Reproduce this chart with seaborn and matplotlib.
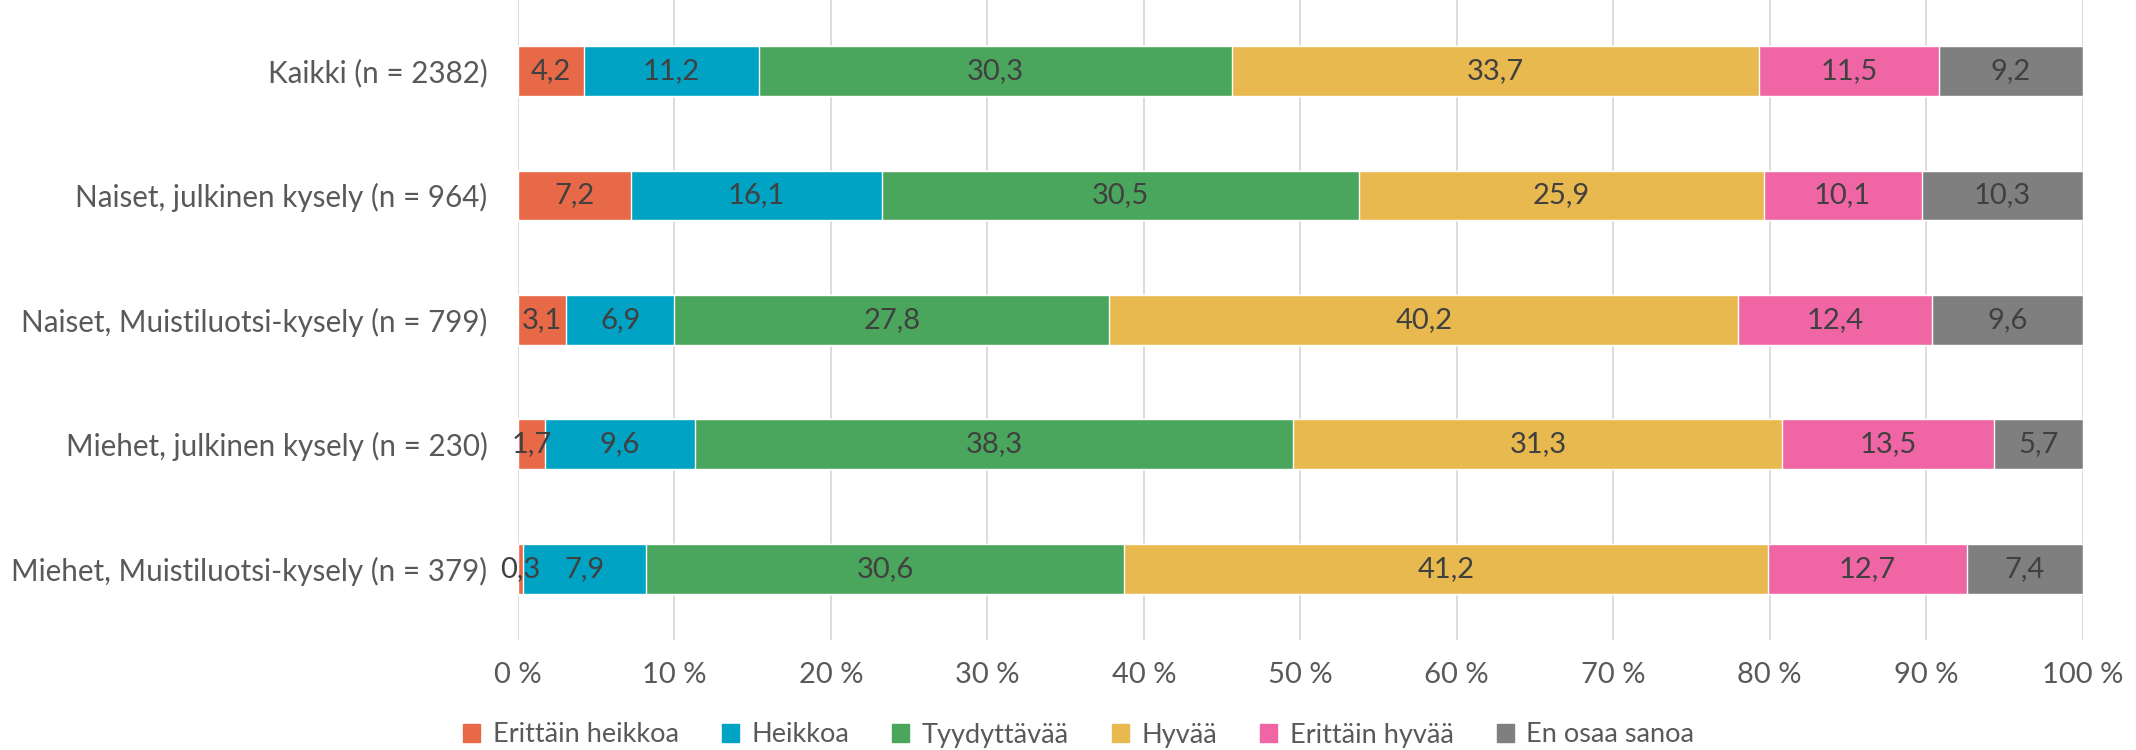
import matplotlib
matplotlib.use("Agg")
import matplotlib.pyplot as plt
import seaborn as sns
import numpy as np
import pandas as pd

sns.set_style("white")
plt.rcParams['font.family'] = ['Lato', 'DejaVu Sans']

categories = [
    "Kaikki (n = 2382)",
    "Naiset, julkinen kysely (n = 964)",
    "Naiset, Muistiluotsi-kysely (n = 799)",
    "Miehet, julkinen kysely (n = 230)",
    "Miehet, Muistiluotsi-kysely (n = 379)",
]
series = ["Erittäin heikkoa", "Heikkoa", "Tyydyttävää", "Hyvää", "Erittäin hyvää", "En osaa sanoa"]
erittain_heikkoa = [4.2, 7.2, 3.1, 1.7, 0.3]
heikkoa = [11.2, 16.1, 6.9, 9.6, 7.9]
tyydyttava = [30.3, 30.5, 27.8, 38.3, 30.6]
hyvaa = [33.7, 25.9, 40.2, 31.3, 41.2]
erittain_hyvaa = [11.5, 10.1, 12.4, 13.5, 12.7]
en_osaa = [9.2, 10.3, 9.6, 5.7, 7.4]
colors = ["#E86948", "#00A3C4", "#4BA65D", "#E8B94F", "#F065A4", "#7F7F7F"]

values = np.array([erittain_heikkoa, heikkoa, tyydyttava, hyvaa, erittain_hyvaa, en_osaa])
cum = np.cumsum(values, axis=0)
# scale each row to 100 like Excel's 100% stacked bar
cum = cum / cum[-1] * 100
starts = np.vstack([np.zeros(len(categories)), cum[:-1]])

fig = plt.figure(figsize=(21.36, 7.5), dpi=100)
ax = fig.add_axes([0.2425, 0.147, 0.7325, 0.853])

# draw cumulative bars from the longest to the shortest so they stack
for i in range(len(series) - 1, -1, -1):
    df = pd.DataFrame({"cat": categories, "val": cum[i]})
    sns.barplot(data=df, x="val", y="cat", orient="h", color=colors[i],
                saturation=1, width=0.4, edgecolor="white", linewidth=1,
                ax=ax, zorder=3)

for i in range(len(series)):
    for j in range(len(categories)):
        mid = (starts[i][j] + cum[i][j]) / 2
        ax.text(mid, j, f"{values[i][j]:.1f}".replace(".", ","), ha="center", va="center",
                fontsize=21, color="#404040", zorder=5)

ax.set_xlim(0, 100)
ax.set_ylim(4.57, -0.57)
ax.set_xticks(np.arange(0, 101, 10))
ax.set_xticklabels([f"{t} %" for t in range(0, 101, 10)])
ax.tick_params(axis="x", labelsize=21, colors="#595959", length=0, pad=16)
ax.tick_params(axis="y", labelsize=21.3, colors="#595959", length=0, pad=22)
ax.set_xlabel("")
ax.set_ylabel("")
ax.grid(axis="x", color="#D9D9D9", linewidth=1.3, zorder=0)
for s in ax.spines.values():
    s.set_visible(False)

handles = [plt.Rectangle((0, 0), 1, 1, color=c) for c in colors]
fig.legend(handles, series, loc="center", ncol=6, frameon=False,
           bbox_to_anchor=(0.505, 0.02), fontsize=19.5, handlelength=0.63,
           handleheight=0.67, handletextpad=0.45, columnspacing=1.6,
           labelcolor="#595959")

fig.savefig("out.png", dpi=100)
